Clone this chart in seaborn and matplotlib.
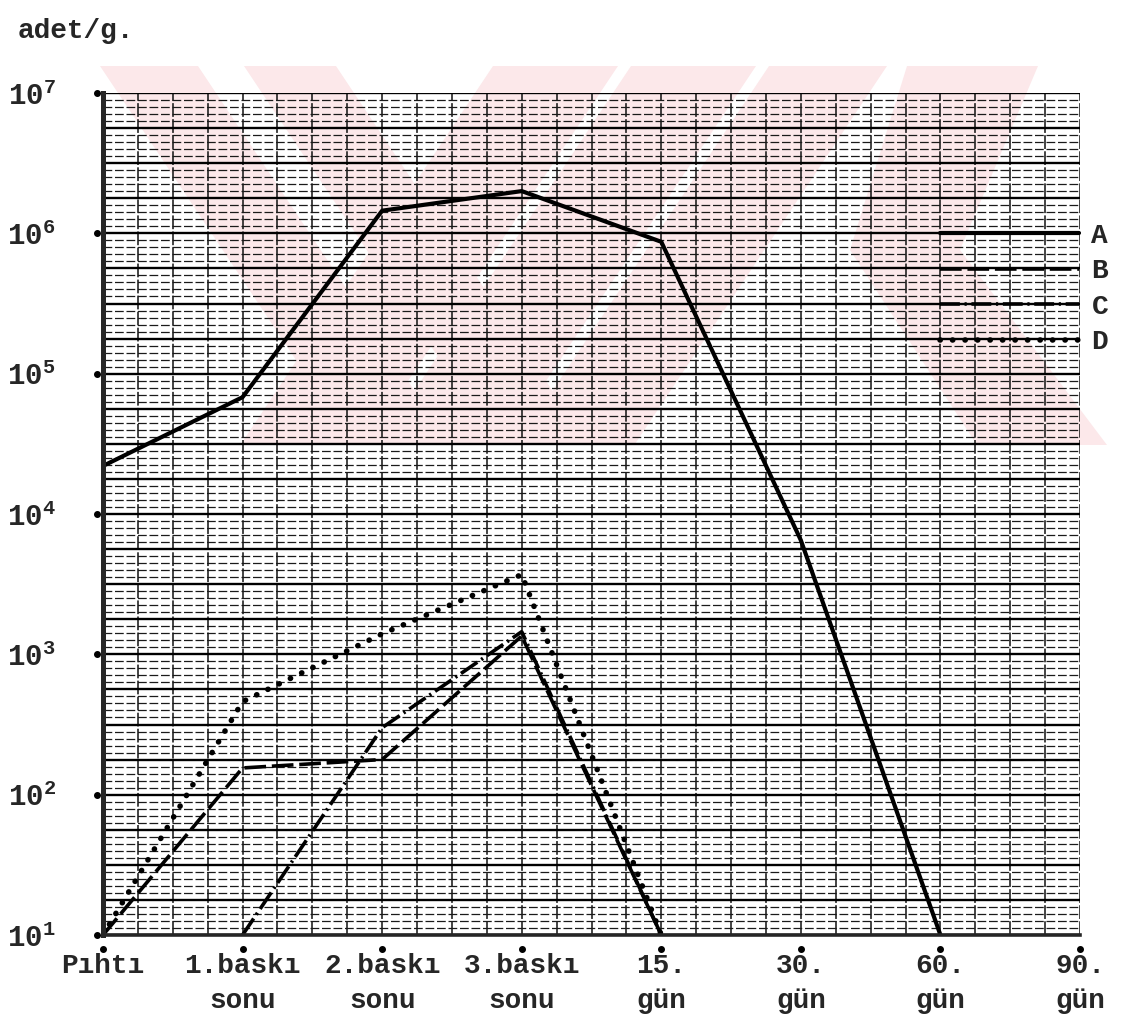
import numpy as np
import pandas as pd
import matplotlib
matplotlib.use("Agg")
import matplotlib.pyplot as plt
import matplotlib.transforms as mtransforms
from matplotlib.patches import Polygon
from matplotlib.ticker import FixedLocator, FuncFormatter, NullFormatter
import seaborn as sns

# sampling stages along the x axis
stages = ["Pıhtı", "1.baskı\nsonu", "2.baskı\nsonu", "3.baskı\nsonu",
          "15.\ngün", "30.\ngün", "60.\ngün", "90.\ngün"]

# counts (adet/g.) per group; None = not measured / not plotted
count_a = [2.2e4, 6.8e4, 1.45e6, 2.0e6, 8.7e5, 6.5e3, 10, None]
count_b = [10, 155, 178, 1350, 10, None, None, None]
count_c = [None, 10, 300, 1450, 10, None, None, None]
count_d = [10, 460, 1400, 3700, 10, None, None, None]

group_names = ["A", "B", "C", "D"]
group_counts = [count_a, count_b, count_c, count_d]

rows = []
for name, vals in zip(group_names, group_counts):
    for i, v in enumerate(vals):
        if v is not None:
            rows.append({"stage": i, "count": v, "group": name})
df = pd.DataFrame(rows)

sns.set_style("white")
plt.rcParams["font.family"] = ["Liberation Mono", "DejaVu Sans Mono"]
plt.rcParams["font.weight"] = "bold"
plt.rcParams["mathtext.fontset"] = "custom"
plt.rcParams["mathtext.rm"] = "Liberation Mono:bold"
plt.rcParams["mathtext.default"] = "rm"

W, H = 1123, 1029
fig = plt.figure(figsize=(W / 100, H / 100), dpi=100)
fig.patch.set_facecolor("white")

ax = fig.add_axes([103 / W, 94 / H, (1080 - 103) / W, (935 - 93) / H])
ax.set_facecolor("white")
ax.set_yscale("log")
ax.set_xlim(0, 7)
ax.set_ylim(10, 1e7)

# pale diagonal watermark bands behind the grid (figure pixel space, y from top)
def px(x, y):
    return (x / W, 1 - y / H)

pink = "#fce8ea"
band_top, band_bot = 66, 445
rise = (band_bot - band_top) / 1.5
shapes = []
for x0, x1 in [(100, 198), (244, 336)]:
    shapes.append([(x0, band_top), (x1, band_top), (x1 + rise, band_bot), (x0 + rise, band_bot)])
for x0, x1 in [(493, 618), (631, 756), (769, 887)]:
    shapes.append([(x0, band_top), (x1, band_top), (x1 - rise, band_bot), (x0 - rise, band_bot)])
# chevron on the right
shapes.append([(907, 66), (1038, 66), (960, 250), (1107, 445), (977, 445), (850, 250)])
for pts in shapes:
    ax.add_patch(Polygon([px(x, y) for x, y in pts], closed=True,
                         transform=fig.transFigure, clip_on=False,
                         facecolor=pink, edgecolor="none", zorder=0.1))

# graph-paper grid: quarter-category verticals, 1/20-decade and 1/4-decade horizontals
ax.xaxis.set_major_locator(FixedLocator(np.arange(len(stages))))
ax.xaxis.set_minor_locator(FixedLocator(np.arange(0, 7.01, 0.25)))
ax.yaxis.set_major_locator(FixedLocator(10 ** (np.arange(4, 29) / 4)))
ax.yaxis.set_minor_locator(FixedLocator(10 ** (np.arange(20, 141) / 20)))

def ylab(v, pos):
    e = np.log10(v)
    if abs(e - round(e)) < 1e-6:
        return r"10$^{%d}$" % round(e)
    return ""

ax.yaxis.set_major_formatter(FuncFormatter(ylab))
ax.yaxis.set_minor_formatter(NullFormatter())
ax.set_xticklabels(stages, fontsize=20, linespacing=1.45)
for t in ax.get_yticklabels():
    t.set_fontsize(21)

ax.grid(axis="x", which="both", color="#111111", lw=1.1, ls=(0, (9, 1.5)))
ax.grid(axis="y", which="minor", color="#1a1a1a", lw=0.9, ls=(0, (7, 2.2)))
ax.grid(axis="y", which="major", color="black", lw=1.7, ls="-")
ax.set_axisbelow(True)
ax.tick_params(axis="both", which="both", length=0)
ax.tick_params(axis="x", which="major", pad=13)
ax.tick_params(axis="y", which="major", pad=34)

for s in ["top", "right"]:
    ax.spines[s].set_visible(False)
ax.spines["left"].set_linewidth(3.6)
ax.spines["bottom"].set_linewidth(2.6)
ax.spines["left"].set_zorder(5)
ax.spines["bottom"].set_zorder(5)

styles = {
    "A": dict(linestyle="-", lw=3.0),
    "B": dict(linestyle=(0, (6.0, 1.6)), lw=2.6),
    "C": dict(linestyle=(0, (5.5, 1.3, 0.6, 1.3)), lw=2.6),
    "D": dict(linestyle=(0, (0.05, 2.2)), lw=4.0, dash_capstyle="round"),
}
for name in group_names:
    sub = df[df["group"] == name]
    sns.lineplot(data=sub, x="stage", y="count", ax=ax, color="black",
                 label=name, zorder=4, solid_capstyle="round", **styles[name])

ax.set_xlabel("")
ax.set_ylabel("")

# small dots marking tick positions on both axes
bx = mtransforms.blended_transform_factory(ax.transData, ax.transAxes)
ax.plot(np.arange(len(stages)), np.full(len(stages), -14 / 842), "o", color="black",
        ms=4, transform=bx, clip_on=False)
ly = mtransforms.blended_transform_factory(ax.transAxes, ax.transData)
decades = 10.0 ** np.arange(1, 8)
ax.plot(np.full(len(decades), -6 / 977), decades, "o", color="black",
        ms=4, transform=ly, clip_on=False)

leg = ax.legend(loc="upper left", bbox_to_anchor=(940 / W, 1 - 223 / H),
                bbox_transform=fig.transFigure, frameon=False, fontsize=20,
                handlelength=5.0, handletextpad=0.45, labelspacing=0.34,
                borderpad=0, borderaxespad=0)

fig.text(18 / W, 1 - 31 / H, "adet/g.", fontsize=20, ha="left", va="center")

fig.savefig("out.png", dpi=100, facecolor="white")
